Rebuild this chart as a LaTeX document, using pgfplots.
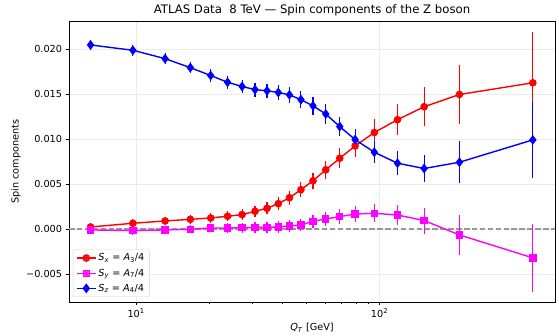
\documentclass[border=0pt]{standalone}
\usepackage{fontspec}
\setmainfont{DejaVu Sans}
\usepackage{pgfplots}
\pgfplotsset{compat=1.18}
\usepackage{pgfplotstable}

\pgfplotstableread{
q y e
6.5 0.00023 0.00020
9.7 0.00064 0.00020
13.15 0.00090 0.00020
16.7 0.00108 0.00022
20.25 0.00123 0.00025
23.75 0.00142 0.00028
27.25 0.00160 0.00030
30.8 0.00197 0.00033
34.5 0.00230 0.00038
38.4 0.00282 0.00042
42.65 0.00348 0.00048
47.55 0.00437 0.00053
53.3 0.00536 0.00059
60.15 0.00658 0.00074
68.65 0.00786 0.00083
79.4 0.00923 0.00092
95.2 0.01072 0.00122
118.5 0.01214 0.00144
152.5 0.01358 0.00186
213 0.01494 0.00300
426.5 0.01624 0.00540
}\sx

\pgfplotstableread{
q y e
6.5 -0.00010 0.00015
9.7 -0.00017 0.00015
13.15 -0.00010 0.00015
16.7 -0.00002 0.00018
20.25 0.00012 0.00020
23.75 0.00012 0.00022
27.25 0.00015 0.00025
30.8 0.00017 0.00027
34.5 0.00020 0.00030
38.4 0.00023 0.00033
42.65 0.00034 0.00036
47.55 0.00045 0.00040
53.3 0.00086 0.00045
60.15 0.00112 0.00050
68.65 0.00138 0.00055
79.4 0.00167 0.00065
95.2 0.00175 0.00072
118.5 0.00156 0.00081
152.5 0.00094 0.00115
213 -0.00065 0.00190
426.5 -0.00320 0.00350
}\sy

\pgfplotstableread{
q y e
6.5 0.02044 0.00030
9.7 0.01985 0.00030
13.15 0.01892 0.00030
16.7 0.01792 0.00030
20.25 0.01705 0.00040
23.75 0.01630 0.00045
27.25 0.01583 0.00048
30.8 0.01548 0.00050
34.5 0.01535 0.00050
38.4 0.01516 0.00055
42.65 0.01490 0.00060
47.55 0.01436 0.00065
53.3 0.01368 0.00070
60.15 0.01277 0.00077
68.65 0.01138 0.00079
79.4 0.00993 0.00088
95.2 0.00853 0.00096
118.5 0.00731 0.00105
152.5 0.00672 0.00125
213 0.00742 0.00207
426.5 0.00990 0.00390
}\sz

\definecolor{mplred}{HTML}{FF0000}
\definecolor{mplmag}{HTML}{FF00FF}
\definecolor{mplblue}{HTML}{0000FF}
\definecolor{gridc}{HTML}{EBEBEB}

\newcommand{\fs}{\fontsize{9.7bp}{11bp}\selectfont}

\pgfplotsset{
  errleg/.style={
    legend image code/.code={
      \draw[##1] (0bp,0bp) -- (19bp,0bp);
      \draw[##1,mark=none,line width=1.2bp] (9.5bp,-3bp) -- (9.5bp,3bp);
      \draw[##1] plot coordinates {(9.5bp,0bp)};
    }
  }
}

\begin{document}
\begin{tikzpicture}
\path[use as bounding box, fill=white] (-69bp,-34bp) rectangle (490bp,302bp);
\begin{axis}[
  at={(0,0)}, anchor=south west,
  scale only axis, width=486bp, height=281bp,
  xmode=log, xmin=5.3, xmax=526,
  ymin=-0.0081, ymax=0.0231,
  scaled y ticks=false,
  xtick={10,100}, xticklabels={10\textsuperscript{1},10\textsuperscript{2}},
  ytick={-0.005,0,0.005,0.010,0.015,0.020},
  yticklabels={−0.005,0.000,0.005,0.010,0.015,0.020},
  /pgf/number format/assume math mode=true,
  tick label style={font=\fs},
  tick align=outside, tick pos=left,
  major tick length=3.4bp, minor tick length=2bp,
  every tick/.style={black, line width=0.8bp},
  grid=major, major grid style={gridc, line width=0.8bp},
  axis line style={black, line width=0.8bp},
  every axis title shift=0pt,
  title={ATLAS Data\ \ 8 TeV — Spin components of the Z boson},
  title style={font=\fontsize{11.7bp}{13bp}\selectfont, inner sep=0pt, at={(0.5,1)}, anchor=south, yshift=5bp},
  xlabel={\textit{Q}\textsubscript{\textit{T}} [GeV]},
  ylabel={Spin components},
  label style={font=\fs},
  xlabel style={inner sep=0pt, yshift=-2bp},
  ylabel style={inner sep=0pt, yshift=2bp},
  legend style={at={(0.008,0.018)}, anchor=south west, font=\fs,
    draw=gray!35, rounded corners=2bp, inner xsep=3bp, inner ysep=2bp,
    row sep=2.5bp, cells={anchor=west}, fill=white, fill opacity=0.8, text opacity=1},
  legend cell align=left,
  errleg,
]
\addplot[forget plot, gray!80, line width=1.4bp, dash pattern=on 5.5bp off 2.4bp] coordinates {(5.3,0) (526,0)};

\addplot[mplred, line width=1.4bp, mark=*, mark size=3.1bp, mark options={solid},
  error bars/.cd, y dir=both, y explicit, error mark=-,
  error mark options={mark size=2.6bp, line width=1.1bp},
  error bar style={line width=1.1bp}]
  table[x=q, y=y, y error=e] {\sx};
\addlegendentry{\textit{S}\textsubscript{\textit{x}} = \textit{A}\textsubscript{3}/4}

\addplot[mplmag, line width=1.4bp, mark=square*, mark size=3.0bp, mark options={solid},
  error bars/.cd, y dir=both, y explicit, error mark=-,
  error mark options={mark size=2.6bp, line width=1.1bp},
  error bar style={line width=1.1bp}]
  table[x=q, y=y, y error=e] {\sy};
\addlegendentry{\textit{S}\textsubscript{\textit{y}} = \textit{A}\textsubscript{7}/4}

\addplot[mplblue, line width=1.4bp, mark=diamond*, mark size=3.8bp, mark options={solid},
  error bars/.cd, y dir=both, y explicit, error mark=-,
  error mark options={mark size=2.6bp, line width=1.1bp},
  error bar style={line width=1.1bp}]
  table[x=q, y=y, y error=e] {\sz};
\addlegendentry{\textit{S}\textsubscript{\textit{z}} = \textit{A}\textsubscript{4}/4}
\end{axis}
\end{tikzpicture}
\end{document}
